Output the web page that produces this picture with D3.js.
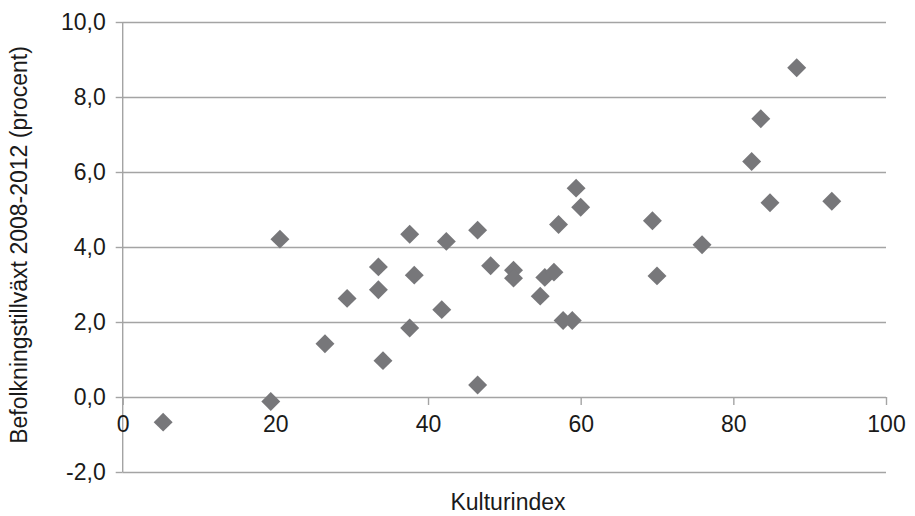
<!DOCTYPE html>
<html><head><meta charset="utf-8">
<script src="https://cdn.jsdelivr.net/npm/d3@7"></script>
<style>html,body{margin:0;padding:0;background:#fff}svg{display:block}</style>
</head><body>
<svg id="c" width="915" height="516"></svg>
<script>
const kulturindex = [5.3,19.4,20.6,26.5,29.4,33.5,33.5,34.1,37.6,37.6,38.2,41.8,42.4,46.5,46.5,48.2,51.2,51.2,54.7,55.3,56.5,57.1,57.7,58.9,59.4,60.0,69.4,70.0,75.9,82.4,83.6,84.8,88.3,92.9];
const befolkning  = [-0.67,-0.12,4.21,1.42,2.63,3.47,2.86,0.97,4.34,1.84,3.25,2.33,4.15,4.45,0.32,3.50,3.38,3.17,2.69,3.19,3.33,4.60,2.04,2.04,5.57,5.06,4.70,3.23,4.06,6.28,7.42,5.18,8.78,5.22];
const xTicks = [0,20,40,60,80,100];
const yTicks = [-2,0,2,4,6,8,10];
const xTitle = "Kulturindex";
const yTitle = "Befolkningstillväxt 2008-2012 (procent)";

const svg = d3.select("#c");
const font = "'Liberation Sans', Arial, sans-serif";
const x = d3.scaleLinear().domain([0,100]).range([122.7,886]);
const y = d3.scaleLinear().domain([-2,10]).range([472,22]);
const gridC = "#a4a4a4";
const fmt = d => d.toFixed(1).replace(".", ",");

// horizontal gridlines + y labels
const gy = svg.append("g")
  .attr("transform", `translate(${x(0)},0)`)
  .call(d3.axisLeft(y).tickValues(yTicks).tickFormat(fmt).tickSize(7).tickPadding(10));
gy.select(".domain").remove();
gy.selectAll(".tick line").attr("stroke", gridC).attr("stroke-width", 1.4)
  .clone().attr("x1", 0).attr("x2", x(100) - x(0));
gy.selectAll(".tick text").attr("font-family", font).attr("font-size", 23).attr("fill", "#1a1a1a");

// vertical axis line
svg.append("line").attr("x1", x(0)).attr("x2", x(0)).attr("y1", y(10)).attr("y2", y(-2))
  .attr("stroke", gridC).attr("stroke-width", 1.4);

// x axis at y=0
const gx = svg.append("g")
  .attr("transform", `translate(0,${y(0)})`)
  .call(d3.axisBottom(x).tickValues(xTicks).tickFormat(d => String(d)).tickSize(8).tickPadding(11));
gx.select(".domain").remove();
gx.selectAll(".tick line").attr("stroke", gridC).attr("stroke-width", 1.4);
gx.selectAll(".tick text").attr("font-family", font).attr("font-size", 23).attr("fill", "#1a1a1a");

// points
const diamond = d3.symbol().type(d3.symbolSquare).size(13.4*13.4);
svg.append("g").selectAll("path").data(kulturindex).join("path")
  .attr("d", diamond)
  .attr("transform", (d,i) => `translate(${x(d)},${y(befolkning[i])}) rotate(45)`)
  .attr("fill", "#77777a");

// titles
svg.append("text").attr("x", 508).attr("y", 510).attr("text-anchor", "middle")
  .attr("font-family", font).attr("font-size", 23).attr("fill", "#1a1a1a").text(xTitle);
svg.append("text").attr("transform", "translate(27,245) rotate(-90)").attr("text-anchor", "middle")
  .attr("font-family", font).attr("font-size", 23).attr("fill", "#1a1a1a").text(yTitle);
</script>
</body></html>
